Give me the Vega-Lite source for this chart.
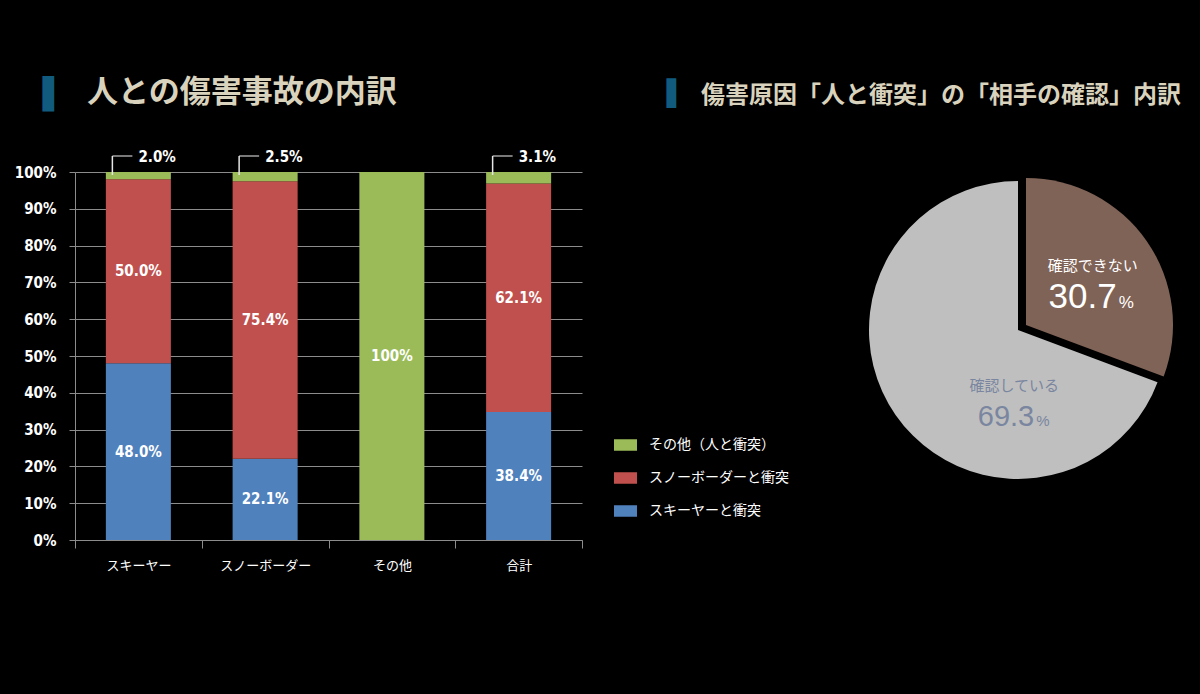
{
  "$schema": "https://vega.github.io/schema/vega-lite/v6.json",
  "background": "#000000",
  "autosize": {"type": "pad"},
  "padding": {"left": 14, "top": 77, "right": 25, "bottom": 130},
  "config": {
    "view": {"stroke": null},
    "font": "Noto Sans CJK JP",
    "axisY": {
      "titleX": -33, "titleY": -78, "titleAngle": 0, "titleAlign": "left",
      "titleBaseline": "middle", "titleColor": "#105B7E", "titleFont": "DejaVu Sans",
      "titleFontSize": 30, "titleFontWeight": "normal",
      "labelOverlap": false,
      "labelFont": "Liberation Sans Narrow, DejaVu Sans Condensed, sans-serif",
      "labelFontSize": 15, "labelFontWeight": "bold", "labelColor": "#FFFFFF",
      "labelPadding": 13, "tickSize": 6, "tickColor": "#8C8C8C",
      "domainColor": "#8C8C8C", "grid": true, "gridColor": "#8C8C8C"
    }
  },
  "resolve": {"scale": {"color": "independent"}, "legend": {"color": "independent"}},
  "spacing": 278,
  "bounds": "flush",
  "hconcat": [
    {
      "width": 507,
      "height": 368,
      "data": {"values": [
        {"group": "スキーヤー", "series": "スキーヤーと衝突", "rank": 1, "value": 48.0, "label": "48.0%"},
        {"group": "スキーヤー", "series": "スノーボーダーと衝突", "rank": 2, "value": 50.0, "label": "50.0%"},
        {"group": "スキーヤー", "series": "その他（人と衝突）", "rank": 3, "value": 2.0, "label": "2.0%"},
        {"group": "スノーボーダー", "series": "スキーヤーと衝突", "rank": 1, "value": 22.1, "label": "22.1%"},
        {"group": "スノーボーダー", "series": "スノーボーダーと衝突", "rank": 2, "value": 75.4, "label": "75.4%"},
        {"group": "スノーボーダー", "series": "その他（人と衝突）", "rank": 3, "value": 2.5, "label": "2.5%"},
        {"group": "その他", "series": "その他（人と衝突）", "rank": 3, "value": 100, "label": "100%"},
        {"group": "合計", "series": "スキーヤーと衝突", "rank": 1, "value": 34.8, "label": "38.4%"},
        {"group": "合計", "series": "スノーボーダーと衝突", "rank": 2, "value": 62.1, "label": "62.1%"},
        {"group": "合計", "series": "その他（人と衝突）", "rank": 3, "value": 3.1, "label": "3.1%"}
      ]},
      "title": {
        "text": "人との傷害事故の内訳",
        "anchor": "start", "frame": "group", "dx": 12, "offset": -45, "baseline": "middle",
        "font": "Noto Sans CJK JP", "fontSize": 31, "fontWeight": "bold", "color": "#D9D3BD"
      },
      "encoding": {
        "x": {
          "field": "group", "type": "nominal",
          "sort": ["スキーヤー", "スノーボーダー", "その他", "合計"],
          "scale": {"paddingInner": 0, "paddingOuter": 0},
          "axis": {
            "title": "▌", "titleX": 591, "titleY": -447, "titleAngle": 0, "titleAlign": "left",
            "titleBaseline": "middle", "titleColor": "#105B7E", "titleFont": "DejaVu Sans",
            "titleFontSize": 25, "titleFontWeight": "normal",
            "labelAngle": 0, "labelColor": "#FFFFFF", "labelFont": "Noto Sans CJK JP",
            "labelFontSize": 13, "labelPadding": 11, "tickBand": "extent", "tickSize": 8,
            "tickColor": "#8C8C8C", "domainColor": "#8C8C8C", "grid": false
          }
        },
        "order": {"field": "rank", "type": "quantitative", "sort": "ascending"}
      },
      "layer": [
        {
          "mark": {"type": "bar", "width": {"band": 0.513}},
          "encoding": {
            "y": {
              "field": "value", "type": "quantitative", "stack": "zero", "title": "▌",
              "scale": {"domain": [0, 100], "nice": false},
              "axis": {"values": [0, 10, 20, 30, 40, 50, 60, 70, 80, 90, 100], "labelExpr": "datum.value + '%'"}
            },
            "color": {
              "field": "series", "type": "nominal",
              "scale": {
                "domain": ["その他（人と衝突）", "スノーボーダーと衝突", "スキーヤーと衝突"],
                "range": ["#9BBB59", "#C0504D", "#4F81BD"]
              },
              "legend": {
                "title": null, "orient": "none", "legendX": 539, "legendY": 261.5,
                "direction": "vertical", "symbolType": "M-1,-0.5H1V0.5H-1Z", "symbolSize": 529,
                "symbolStrokeWidth": 0, "symbolOpacity": 1, "labelFont": "Noto Sans CJK JP",
                "labelFontSize": 14, "labelColor": "#FFFFFF", "labelOffset": 12,
                "rowPadding": 14, "padding": 0, "labelLimit": 300
              }
            }
          }
        },
        {
          "transform": [{"filter": "datum.value >= 10"}],
          "mark": {
            "type": "text", "baseline": "middle", "color": "#FFFFFF",
            "font": "Liberation Sans Narrow, DejaVu Sans Condensed, sans-serif",
            "fontSize": 15, "fontWeight": "bold"
          },
          "encoding": {
            "y": {
              "field": "value", "type": "quantitative", "stack": "zero", "bandPosition": 0.5, "title": "▌",
              "axis": {"values": [0, 10, 20, 30, 40, 50, 60, 70, 80, 90, 100], "labelExpr": "datum.value + '%'"}
            },
            "text": {"field": "label"},
            "detail": {"field": "series"}
          }
        },
        {
          "transform": [{"filter": "datum.value < 10"}],
          "layer": [
            {
              "mark": {"type": "rule", "color": "#E6E6E6", "strokeWidth": 1.5, "xOffset": -26, "y2Offset": -16},
              "encoding": {
                "y": {"datum": 99.2, "title": "▌", "axis": {"values": [0, 10, 20, 30, 40, 50, 60, 70, 80, 90, 100], "labelExpr": "datum.value + '%'"}},
                "y2": {"datum": 100}
              }
            },
            {
              "mark": {"type": "tick", "orient": "horizontal", "color": "#E6E6E6", "thickness": 1.5, "size": 20, "xOffset": -16, "yOffset": -16},
              "encoding": {
                "y": {"datum": 100, "title": "▌", "axis": {"values": [0, 10, 20, 30, 40, 50, 60, 70, 80, 90, 100], "labelExpr": "datum.value + '%'"}}
              }
            },
            {
              "mark": {
                "type": "text", "align": "left", "baseline": "middle", "dy": -15,
                "font": "Liberation Sans Narrow, DejaVu Sans Condensed, sans-serif",
                "fontSize": 15, "fontWeight": "bold", "color": "#FFFFFF"
              },
              "encoding": {
                "y": {"datum": 100, "title": "▌", "axis": {"values": [0, 10, 20, 30, 40, 50, 60, 70, 80, 90, 100], "labelExpr": "datum.value + '%'"}},
                "text": {"field": "label"}
              }
            }
          ]
        }
      ]
    },
    {
      "width": 316,
      "height": 316,
      "data": {"values": [
        {"slice": "確認できない", "pct": 30.7},
        {"slice": "確認している", "pct": 69.3}
      ]},
      "title": {
        "text": "傷害原因「人と衝突」の「相手の確認」内訳",
        "anchor": "start", "frame": "group", "dx": -159, "offset": 52, "baseline": "middle",
        "font": "Noto Sans CJK JP", "fontSize": 24, "fontWeight": "bold", "color": "#D9D3BD"
      },
      "encoding": {
        "theta": {"field": "pct", "type": "quantitative", "stack": true},
        "order": {"field": "slice", "type": "nominal", "sort": "descending"}
      },
      "layer": [
        {
          "mark": {"type": "arc", "outerRadius": 149},
          "encoding": {
            "color": {"field": "slice", "type": "nominal", "scale": {"domain": ["確認できない", "確認している"], "range": ["#806357", "#BFBFBF"]}, "legend": null},
            "opacity": {"condition": {"test": "datum.slice === '確認している'", "value": 1}, "value": 0}
          }
        },
        {
          "mark": {"type": "arc", "outerRadius": 147, "xOffset": 8, "yOffset": -5},
          "encoding": {
            "color": {"field": "slice", "type": "nominal", "scale": {"domain": ["確認できない", "確認している"], "range": ["#806357", "#BFBFBF"]}, "legend": null},
            "opacity": {"condition": {"test": "datum.slice === '確認できない'", "value": 1}, "value": 0}
          }
        },
        {
          "mark": {"type": "text", "radius": 80, "align": "center", "baseline": "middle", "dx": 9, "dy": -18, "font": "Noto Sans CJK JP", "fontSize": 15, "color": "#FFFFFF"},
          "encoding": {
            "text": {"field": "slice"},
            "opacity": {"condition": {"test": "datum.slice === '確認できない'", "value": 1}, "value": 0}
          }
        },
        {
          "mark": {"type": "text", "radius": 80, "align": "right", "baseline": "alphabetic", "dx": 33, "dy": 24, "font": "Liberation Sans, Arial, sans-serif", "fontSize": 35, "color": "#FFFFFF"},
          "encoding": {
            "text": {"field": "pct", "type": "quantitative", "format": ".1f"},
            "opacity": {"condition": {"test": "datum.slice === '確認できない'", "value": 1}, "value": 0}
          }
        },
        {
          "mark": {"type": "text", "radius": 80, "align": "left", "baseline": "alphabetic", "dx": 35, "dy": 24, "font": "Liberation Sans, Arial, sans-serif", "fontSize": 17, "color": "#FFFFFF"},
          "encoding": {
            "text": {"value": "%"},
            "opacity": {"condition": {"test": "datum.slice === '確認できない'", "value": 1}, "value": 0}
          }
        },
        {
          "mark": {"type": "text", "radius": 80, "align": "center", "baseline": "middle", "dx": 62, "dy": 10, "font": "Noto Sans CJK JP", "fontSize": 15, "color": "#7A86A0"},
          "encoding": {
            "text": {"field": "slice"},
            "opacity": {"condition": {"test": "datum.slice === '確認している'", "value": 1}, "value": 0}
          }
        },
        {
          "mark": {"type": "text", "radius": 80, "align": "right", "baseline": "alphabetic", "dx": 82, "dy": 50, "font": "Liberation Sans, Arial, sans-serif", "fontSize": 29, "color": "#7A86A0"},
          "encoding": {
            "text": {"field": "pct", "type": "quantitative", "format": ".1f"},
            "opacity": {"condition": {"test": "datum.slice === '確認している'", "value": 1}, "value": 0}
          }
        },
        {
          "mark": {"type": "text", "radius": 80, "align": "left", "baseline": "alphabetic", "dx": 84, "dy": 50, "font": "Liberation Sans, Arial, sans-serif", "fontSize": 15, "color": "#7A86A0"},
          "encoding": {
            "text": {"value": "%"},
            "opacity": {"condition": {"test": "datum.slice === '確認している'", "value": 1}, "value": 0}
          }
        }
      ]
    }
  ]
}
